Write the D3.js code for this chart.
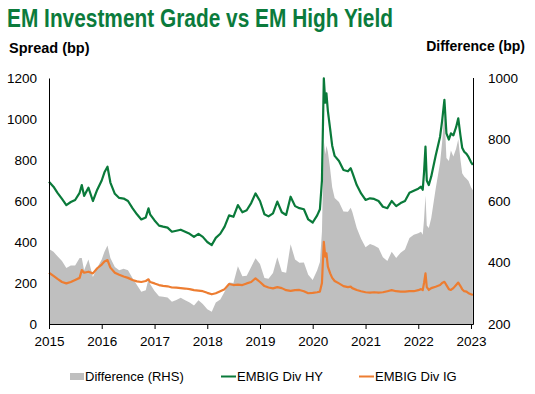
<!DOCTYPE html>
<html>
<head>
<meta charset="utf-8">
<script src="https://cdn.jsdelivr.net/npm/d3@7"></script>
<style>
	body { margin: 0; background: #fff; }
	text { font-family: Arial, 'Liberation Sans', sans-serif; }
</style>
</head>
<body>
<svg id="chart" width="535" height="394"></svg>
<script>
// dates (month strings mean the 1st of that month)
var dates = [
	'2015-01','2015-02','2015-03','2015-04','2015-05','2015-06','2015-07','2015-08','2015-08-16','2015-09','2015-10','2015-11','2015-12',
	'2016-01','2016-01-20','2016-02-10','2016-03','2016-04','2016-05','2016-06','2016-07','2016-08','2016-09','2016-10','2016-11','2016-11-20','2016-12',
	'2017-01','2017-02','2017-03','2017-04','2017-05','2017-06','2017-07','2017-08','2017-09','2017-10','2017-11','2017-12',
	'2018-01','2018-02','2018-03','2018-04','2018-05','2018-06','2018-07','2018-08','2018-09','2018-10','2018-11','2018-12',
	'2019-01','2019-02','2019-03','2019-04','2019-05','2019-06','2019-07','2019-08','2019-09','2019-10','2019-11','2019-12',
	'2020-01','2020-02','2020-02-20','2020-03-05','2020-03-18','2020-03-28','2020-04-05','2020-04-15','2020-05','2020-05-15','2020-06','2020-07','2020-08','2020-09','2020-09-20','2020-10','2020-11','2020-12',
	'2021-01','2021-02','2021-03','2021-04','2021-05','2021-06','2021-07','2021-08','2021-09','2021-10','2021-11','2021-12',
	'2022-01','2022-01-20','2022-02','2022-02-10','2022-02-20','2022-03','2022-03-15','2022-04','2022-05','2022-06','2022-06-15','2022-07','2022-07-15','2022-08','2022-08-15','2022-09','2022-09-20','2022-10-05','2022-10-20','2022-11','2022-11-15','2022-12','2022-12-15',
	'2023-01','2023-01-14'
]

// EMBIG Div HY spread (bp)
var hy = [
	694,670,640,610,580,595,605,640,678,625,665,600,655,
	700,740,767,690,635,615,612,600,565,535,510,520,564,535,
	505,480,475,470,450,455,460,450,440,425,440,425,
	400,385,420,440,475,530,523,580,545,555,590,637,
	600,535,525,540,597,545,532,621,575,565,560,510,
	495,530,560,700,1198,1080,1125,1040,950,870,820,795,751,745,760,740,678,637,
	605,613,610,600,572,565,600,575,590,600,640,650,
	660,670,655,740,865,700,678,720,820,914,990,1093,930,900,930,920,960,1003,920,860,840,830,815,
	790,776
]

// EMBIG Div IG spread (bp)
var ig = [
	250,235,220,205,198,205,215,225,263,250,255,247,272,
	290,305,312,275,250,240,232,225,215,208,205,210,218,205,
	198,190,186,184,178,177,175,173,170,165,163,160,
	152,145,150,160,170,195,190,192,190,198,205,223,
	205,185,178,174,180,175,165,162,165,166,160,150,
	152,155,158,200,401,328,345,280,247,225,210,198,185,180,182,175,166,160,
	155,153,155,153,155,160,165,160,158,158,160,160,
	165,170,165,200,247,180,166,175,182,190,200,206,190,170,166,175,190,202,185,170,160,158,150,
	145,141
]

var yearTicks = ['2015','2016','2017','2018','2019','2020','2021','2022','2023']
var leftTicks = [0, 200, 400, 600, 800, 1000, 1200]
var rightTicks = [200, 400, 600, 800, 1000]

var parseDay = d3.timeParse('%Y-%m-%d')
function toDate(s) { return parseDay(s.length == 7 ? s + '-01' : s) }

// difference = HY - IG, plotted on the right axis
var rows = dates.map(function(d, i) {
	return { date: toDate(d), hy: hy[i], ig: ig[i], diff: hy[i] - ig[i] }
})

var plotLeft = 49, plotRight = 473, plotTop = 78, plotBottom = 324

var x = d3.scaleTime()
	.domain([toDate('2015-01'), toDate('2023-01-15')])
	.range([plotLeft, plotRight])
var yL = d3.scaleLinear().domain([0, 1200]).range([plotBottom, plotTop])
var yR = d3.scaleLinear().domain([200, 1000]).range([plotBottom, plotTop])

var svg = d3.select('#chart')

// title and axis titles
svg.append('text')
	.attr('x', 7)
	.attr('y', 27)
	.attr('fill', '#0B7B3C')
	.attr('font-weight', 'bold')
	.attr('font-size', 25)
	.attr('textLength', 386)
	.attr('lengthAdjust', 'spacingAndGlyphs')
	.style('font-family', "'Liberation Sans Narrow', Arial, sans-serif")
	.text('EM Investment Grade vs EM High Yield')

svg.append('text')
	.attr('x', 9)
	.attr('y', 53)
	.attr('font-weight', 'bold')
	.attr('font-size', 14.5)
	.text('Spread (bp)')

svg.append('text')
	.attr('x', 525)
	.attr('y', 51)
	.attr('text-anchor', 'end')
	.attr('font-weight', 'bold')
	.attr('font-size', 14)
	.text('Difference (bp)')

// difference area (RHS)
svg.append('path')
	.datum(rows)
	.attr('fill', '#BFBFBF')
	.attr('d', d3.area()
		.x(function(d) { return x(d.date) })
		.y0(yR(200))
		.y1(function(d) { return yR(d.diff) }))

// spread lines
svg.append('path')
	.datum(rows)
	.attr('fill', 'none')
	.attr('stroke', '#0A7A3A')
	.attr('stroke-width', 2.2)
	.attr('stroke-linejoin', 'round')
	.attr('d', d3.line()
		.x(function(d) { return x(d.date) })
		.y(function(d) { return yL(d.hy) }))

svg.append('path')
	.datum(rows)
	.attr('fill', 'none')
	.attr('stroke', '#ED7D31')
	.attr('stroke-width', 2.2)
	.attr('stroke-linejoin', 'round')
	.attr('d', d3.line()
		.x(function(d) { return x(d.date) })
		.y(function(d) { return yL(d.ig) }))

// axes
var xAxis = svg.append('g')
	.attr('transform', 'translate(0,' + plotBottom + ')')
	.call(d3.axisBottom(x)
		.tickValues(yearTicks.map(function(t) { return toDate(t + '-01') }))
		.tickFormat(d3.timeFormat('%Y'))
		.tickSize(5)
		.tickSizeOuter(0))
xAxis.select('.domain').attr('stroke', '#000')
xAxis.selectAll('text')
	.attr('font-size', 13.5)
	.attr('fill', '#000')
	.attr('dy', '1.05em')
	.style('font-family', 'Arial, sans-serif')

var yAxisL = svg.append('g')
	.attr('transform', 'translate(' + plotLeft + ',0)')
	.call(d3.axisLeft(yL).tickValues(leftTicks).tickFormat(d3.format('d')).tickSize(0).tickPadding(12))
yAxisL.select('.domain').attr('stroke', '#000')
yAxisL.selectAll('text')
	.attr('font-size', 13.5)
	.attr('fill', '#000')
	.style('font-family', 'Arial, sans-serif')

var yAxisR = svg.append('g')
	.attr('transform', 'translate(' + plotRight + ',0)')
	.call(d3.axisRight(yR).tickValues(rightTicks).tickFormat(d3.format('d')).tickSize(0).tickPadding(15))
yAxisR.select('.domain').attr('stroke', '#000')
yAxisR.selectAll('text')
	.attr('font-size', 13.5)
	.attr('fill', '#000')
	.style('font-family', 'Arial, sans-serif')

// right border line of the plot
svg.append('line')
	.attr('x1', plotRight + 0.5).attr('x2', plotRight + 0.5)
	.attr('y1', plotTop).attr('y2', plotBottom)
	.attr('stroke', '#000')
	.attr('stroke-width', 1)

// legend
var legend = svg.append('g').attr('class', 'legend')

legend.append('rect')
	.attr('x', 70)
	.attr('y', 373)
	.attr('width', 14)
	.attr('height', 7)
	.attr('fill', '#BFBFBF')
legend.append('text')
	.attr('x', 85)
	.attr('y', 381)
	.attr('font-size', 13)
	.text('Difference (RHS)')

legend.append('line')
	.attr('x1', 221).attr('x2', 236)
	.attr('y1', 376.5).attr('y2', 376.5)
	.attr('stroke', '#0A7A3A')
	.attr('stroke-width', 2)
legend.append('text')
	.attr('x', 237)
	.attr('y', 381)
	.attr('font-size', 13)
	.text('EMBIG Div HY')

legend.append('line')
	.attr('x1', 359).attr('x2', 374)
	.attr('y1', 376.5).attr('y2', 376.5)
	.attr('stroke', '#ED7D31')
	.attr('stroke-width', 2)
legend.append('text')
	.attr('x', 375)
	.attr('y', 381)
	.attr('font-size', 13)
	.text('EMBIG Div IG')
</script>
</body>
</html>
